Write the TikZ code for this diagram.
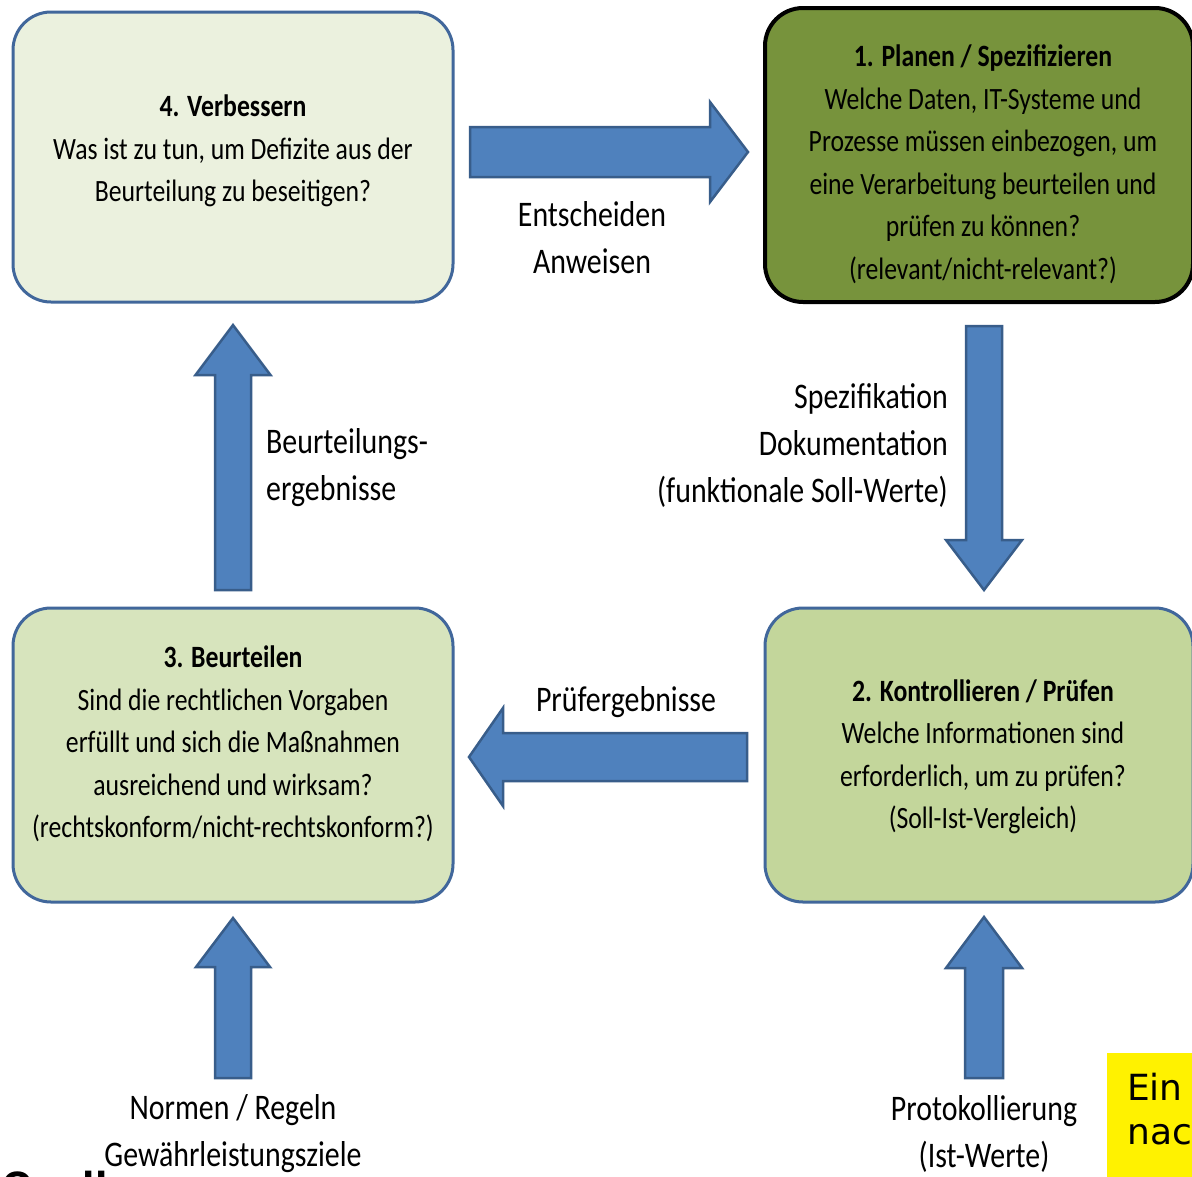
\documentclass[tikz,border=0pt]{standalone}
\usepackage{fontspec}
\setmainfont{Carlito}[FakeStretch=0.83]
\newfontfamily\webfont{DejaVu Sans}
\usetikzlibrary{calc}

\definecolor{stagefour}{HTML}{EBF1DE}
\definecolor{stageone}{HTML}{77933C}
\definecolor{stagetwo}{HTML}{C3D69B}
\definecolor{stagethree}{HTML}{D7E4BD}
\definecolor{stageline}{HTML}{41679B}
\definecolor{flowfill}{HTML}{4F81BD}
\definecolor{flowline}{HTML}{385D8A}

% block arrow from #1 to #2: half shaft width #3, half head width #4, head length #5
\newcommand\blockarrow[5]{%
  \draw[flow]
    ($(#1)!#3!90:(#2)$)
    -- ($($(#2)!#5!(#1)$)!#3!-90:(#1)$)
    -- ($($(#2)!#5!(#1)$)!#4!-90:(#1)$)
    -- (#2)
    -- ($($(#2)!#5!(#1)$)!#4!90:(#1)$)
    -- ($($(#2)!#5!(#1)$)!#3!90:(#1)$)
    -- ($(#1)!#3!-90:(#2)$)
    -- cycle;}

\begin{document}
\begin{tikzpicture}[x=1pt,y=-1pt,
  stage/.style={draw=stageline, line width=3pt, rounded corners=38pt,
    minimum width=440pt, minimum height=294pt, inner sep=0pt},
  boxtext/.style={align=center, font=\fontsize{31}{42.5}\selectfont, inner sep=0pt},
  flowlabel/.style={font=\fontsize{36}{47}\selectfont, inner sep=0pt},
  flow/.style={fill=flowfill, draw=flowline, line width=2.5pt, line join=miter}]

\useasboundingbox (0,0) rectangle (1192,1176);
\clip (0,0) rectangle (1192,1176);
\fill[white] (0,0) rectangle (1192,1176);

% the four stages of the cycle
\node[stage, fill=stagefour, minimum height=290pt] (verbessern) at (233,157) {};
\node[stage, fill=stageone, draw=black, line width=4pt, minimum width=428pt] (planen) at (979,155) {};
\node[stage, fill=stagetwo, minimum width=428pt] (kontrolle) at (979,755) {};
\node[stage, fill=stagethree] (beurteilen) at (233,755) {};

\node[boxtext] (verbessernText) at (233,151)
  {\textbf{4. Verbessern}\\Was ist zu tun, um Defizite aus der\\Beurteilung zu beseitigen?};
\node[boxtext] (planenText) at (983,164)
  {\textbf{1. Planen / Spezifizieren}\\Welche Daten, IT-Systeme und\\Prozesse müssen einbezogen, um\\eine Verarbeitung beurteilen und\\prüfen zu können?\\(relevant/nicht-relevant?)};
\node[boxtext] (kontrolleText) at (983,757)
  {\textbf{2. Kontrollieren / Prüfen}\\Welche Informationen sind\\erforderlich, um zu prüfen?\\(Soll-Ist-Vergleich)};
\node[boxtext] (beurteilenText) at (233,744)
  {\textbf{3. Beurteilen}\\Sind die rechtlichen Vorgaben\\erfüllt und sich die Maßnahmen\\ausreichend und wirksam?\\(rechtskonform/nicht-rechtskonform?)};

% arrow end points
\coordinate (decideFrom) at (470,152);
\coordinate (decideTo) at (748,152);
\coordinate (specFrom) at (984,326);
\coordinate (specTo) at (984,590);
\coordinate (resultFrom) at (747,757);
\coordinate (resultTo) at (469,757);
\coordinate (judgeFrom) at (233,590);
\coordinate (judgeTo) at (233,325);
\coordinate (normFrom) at (233,1078);
\coordinate (normTo) at (233,918);
\coordinate (logFrom) at (984,1078);
\coordinate (logTo) at (984,917);

\blockarrow{decideFrom}{decideTo}{25pt}{50pt}{38pt}
\blockarrow{specFrom}{specTo}{18pt}{38pt}{50pt}
\blockarrow{resultFrom}{resultTo}{24pt}{49pt}{34pt}
\blockarrow{judgeFrom}{judgeTo}{18pt}{37.5pt}{50pt}
\blockarrow{normFrom}{normTo}{18pt}{37pt}{49pt}
\blockarrow{logFrom}{logTo}{19pt}{38pt}{51pt}

% arrow labels
\node[flowlabel, align=center] (decideLabel) at (592,238) {Entscheiden\\Anweisen};
\node[flowlabel, align=right, anchor=east] (specLabel) at (948,445)
  {Spezifikation\\Dokumentation\\(funktionale Soll-Werte)};
\node[flowlabel, align=center] (resultLabel) at (626,702) {Prüfergebnisse};
\node[flowlabel, align=left, anchor=west] (judgeLabel) at (266,468) {Beurteilungs-\\ergebnisse};
\node[flowlabel, align=center] (normLabel) at (233,1134) {Normen / Regeln\\Gewährleistungsziele};
\node[flowlabel, align=center] (logLabel) at (984,1134) {Protokollierung\\(Ist-Werte)};

% page furniture cut by the edges
\fill[yellow] (1107,1053) rectangle (1200,1180);
\node[anchor=base west, inner sep=0pt, font=\webfont\fontsize{36}{44}\selectfont] (noteTop) at (1127,1100) {Ein};
\node[anchor=base west, inner sep=0pt, font=\webfont\fontsize{36}{44}\selectfont] (noteBottom) at (1127,1144) {nac};
\node[anchor=base west, inner sep=0pt, font=\webfont\bfseries\fontsize{36}{44}\selectfont] (source) at (2,1198) {Quelle:};
\end{tikzpicture}
\end{document}
